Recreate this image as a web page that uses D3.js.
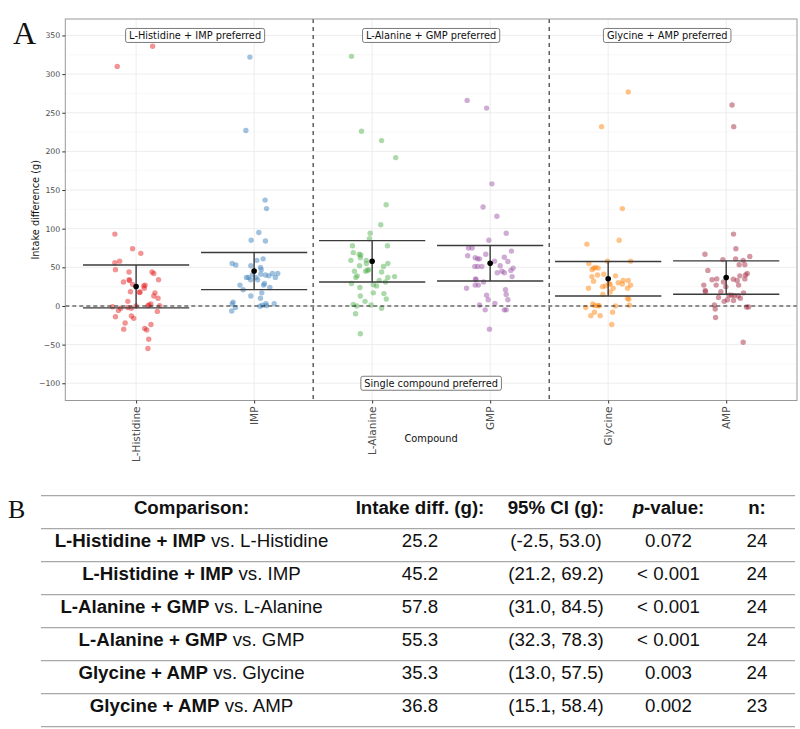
<!DOCTYPE html>
<html><head><meta charset="utf-8">
<script src="https://cdn.jsdelivr.net/npm/d3@7"></script>
<style>body{margin:0;background:#fff;}svg{display:block;}</style>
</head><body>
<svg id="chart" width="800" height="729"></svg>
<script>
const categories = ["L-Histidine","IMP","L-Alanine","GMP","Glycine","AMP"];
const colors = ["#E41A1C","#377EB8","#4DAF4A","#984EA3","#FF7F00","#A0233A"];
const means = [25.2,45.2,57.8,55.3,35.3,36.8];
const ciLow = [-2.5,21.2,31.0,32.3,13.0,15.1];
const ciHigh = [53.0,69.2,84.5,78.3,57.5,58.4];
const yTicks = [-100,-50,0,50,100,150,200,250,300,350];

// jittered points: [horizontal offset in category steps, intake difference (g)]
const ptsHistidine = [[-0.16,310],[0.14,336],[-0.18,93],[-0.03,74],[0.04,68],[-0.18,56],[-0.14,58],[-0.175,47],[-0.06,44],[0.135,44],[0.15,42],[-0.107,31],[-0.06,34],[-0.055,33],[0.19,34],[-0.03,28],[0.065,26],[0.076,27],[0.07,23],[0.034,18],[0.028,17.5],[-0.048,18.5],[0.16,17],[0.15,13],[0.186,10],[-0.07,6],[-0.2,-1],[-0.13,-3],[-0.15,-6],[-0.07,-2],[-0.04,-3],[0,0],[0.1,0.4],[0.11,1.3],[0.125,2.6],[0.2,0.4],[0.18,-7],[-0.175,-14],[-0.04,-13],[-0.02,-16],[-0.093,-22],[-0.105,-30],[0.126,-24],[0.073,-29],[0.09,-31],[0.107,-43],[0.1,-55]];
const ptsIMP = [[-0.036,322],[-0.07,227],[0.093,137],[0.105,126],[0.04,95],[-0.025,85],[0.096,84],[-0.186,55],[-0.155,53],[-0.028,52],[0.023,59],[0.076,61],[0.054,50],[0.06,47],[-0.014,40.5],[-0.048,37],[0.014,37],[0.056,41],[0.096,40],[0.124,39],[0.155,42],[0.18,37],[0.2,42],[-0.065,37],[-0.03,34],[0.03,34],[-0.12,27],[-0.093,21],[0.088,29],[0.08,27],[0.133,24],[0.065,17],[0.054,10],[-0.028,13],[-0.178,5],[-0.186,2.6],[-0.158,-2],[-0.19,-6.5],[0.05,-0.4],[0.07,1],[0.1,3],[0.105,0.4],[0.17,3]];
const ptsAlanine = [[-0.175,323],[-0.09,226],[0.08,214],[0.2,192],[0.119,131],[0.073,105],[-0.017,94],[-0.023,87],[-0.167,78],[0.13,78],[-0.16,69],[-0.11,67],[-0.096,66],[-0.1,62.5],[-0.18,59],[-0.05,59],[-0.048,55],[0.133,55],[-0.107,52],[0.096,51],[-0.15,45],[-0.04,46],[-0.055,45],[-0.03,47],[0.08,44],[-0.127,39],[-0.138,37],[0.133,37],[0.19,38],[0.06,33],[0.113,31],[-0.175,29],[0.01,27.6],[0.037,26],[-0.104,24],[0.01,17],[-0.1,13],[0.1,16],[0.12,9],[-0.06,6],[-0.16,2],[-0.13,0],[-0.008,1.3],[0.08,-3],[-0.14,-10],[-0.1,-36]];
const ptsGMP = [[-0.195,266],[-0.03,256],[0.015,158],[-0.06,128],[0.057,116],[0.136,94],[-0.011,85],[-0.184,75],[-0.153,75],[0.18,71],[-0.037,67],[-0.19,65],[0.12,63],[-0.127,62.5],[-0.107,61],[-0.09,61],[0.037,58],[0.15,57.5],[-0.13,51],[-0.105,51],[-0.07,51],[0.085,52],[0.1,45],[0.12,43],[0.195,49],[0.175,46],[0.06,43],[0.186,38],[-0.124,35],[-0.12,34],[-0.056,31],[-0.2,23],[-0.127,27],[-0.1,27],[0.13,21],[0.136,15],[-0.03,14],[0.15,8],[-0.017,8],[0.04,3.4],[-0.09,1.3],[-0.042,-5],[0.12,-5],[0.136,-5],[-0.006,-30]];
const ptsGlycine = [[0.17,277],[-0.056,232],[0.12,126],[0.093,85],[-0.18,80],[-0.006,58],[0.19,58],[-0.164,55],[-0.124,49],[-0.107,50],[-0.085,49],[-0.136,47],[-0.037,41],[-0.09,40],[-0.138,38],[0.062,39],[-0.124,32],[0.006,29],[0.017,28],[0.085,30],[0.12,28.5],[0.127,33],[0.17,33],[0.19,27],[-0.048,25],[-0.023,26],[0.042,23],[-0.167,23],[0.164,23],[-0.045,15],[0.017,18],[0.164,10],[0.175,8.6],[-0.13,2.6],[-0.113,0.4],[-0.088,0.4],[-0.076,0.4],[-0.19,-2],[0.062,0],[0.18,1],[-0.116,-8],[-0.147,-12.5],[-0.068,-12.5],[0.037,-8],[0.03,-24]];
const ptsAMP = [[0.05,260],[0.064,232],[0.062,93],[0.082,74],[-0.18,67],[0.2,64],[-0.028,60],[0.08,61],[0.144,59],[0.158,53.5],[0.11,53.5],[-0.155,46],[0.178,42],[0.164,40],[0.158,35],[0.116,39],[-0.08,35],[-0.12,34],[0.06,34.5],[-0.023,31],[0.093,33],[-0.19,27],[-0.085,27],[0.105,27],[-0.178,20],[-0.175,18.5],[-0.045,18.5],[-0.003,25],[0.023,14],[0.045,14],[0.068,13.4],[0.1,13],[0.12,10],[0.147,17],[-0.065,11],[-0.017,6],[0.011,8],[0.062,7],[-0.1,1.3],[0.172,-1.3],[0.19,-1.3],[-0.093,-4],[-0.09,-15],[0.144,-47]];
const points = [ptsHistidine, ptsIMP, ptsAlanine, ptsGMP, ptsGlycine, ptsAMP];

const annoText = ["L-Histidine + IMP preferred","L-Alanine + GMP preferred","Glycine + AMP preferred","Single compound preferred"];
const annoPair = [[0,1],[2,3],[4,5],[2,3]];
const annoValue = [350,350,350,-100];

// table
const tHeaders = ["Comparison:","Intake diff. (g):","95% CI (g):","p-value:","n:"];
const tBold = ["L-Histidine + IMP","L-Histidine + IMP","L-Alanine + GMP","L-Alanine + GMP","Glycine + AMP","Glycine + AMP"];
const tRest = [" vs. L-Histidine"," vs. IMP"," vs. L-Alanine"," vs. GMP"," vs. Glycine"," vs. AMP"];
const tDiff = ["25.2","45.2","57.8","55.3","35.3","36.8"];
const tCI = ["(-2.5, 53.0)","(21.2, 69.2)","(31.0, 84.5)","(32.3, 78.3)","(13.0, 57.5)","(15.1, 58.4)"];
const tP = ["0.072","< 0.001","< 0.001","< 0.001","0.003","0.002"];
const tN = ["24","24","24","24","24","23"];

const svg = d3.select("#chart");
const P = {left:65.3, right:797, top:19, bottom:400.5};
const x = d3.scalePoint().domain(categories).range([P.left, P.right]).padding(0.6);
const y = d3.scaleLinear().domain([-122.3, 371.3]).range([P.bottom, P.top]);
const step = x.step();

const g = svg.append("g");
// minor grid
const minor = d3.range(-125, 376, 50);
g.selectAll(".minor").data(minor.filter(v=>v>-122.3&&v<371.3)).join("line")
  .attr("x1",P.left).attr("x2",P.right).attr("y1",d=>y(d)).attr("y2",d=>y(d))
  .attr("stroke","#f4f4f4").attr("stroke-width",0.6);
g.selectAll(".major").data(yTicks).join("line")
  .attr("x1",P.left).attr("x2",P.right).attr("y1",d=>y(d)).attr("y2",d=>y(d))
  .attr("stroke","#ebebeb").attr("stroke-width",0.9);
g.selectAll(".vmajor").data(categories).join("line")
  .attr("x1",d=>x(d)).attr("x2",d=>x(d)).attr("y1",P.top).attr("y2",P.bottom)
  .attr("stroke","#ebebeb").attr("stroke-width",0.9);

// points
categories.forEach((c,i)=>{
  g.append("g").selectAll("circle").data(points[i]).join("circle")
    .attr("cx",d=>x(c)+d[0]*step).attr("cy",d=>y(d[1])).attr("r",2.7)
    .attr("fill",colors[i]).attr("fill-opacity",0.47);
});

// zero line
g.append("line").attr("x1",P.left).attr("x2",P.right).attr("y1",y(0)).attr("y2",y(0))
  .attr("stroke","#222").attr("stroke-width",1.1).attr("stroke-dasharray","4,3");
// separators
[[1,2],[3,4]].forEach(([a,b])=>{
  const xx=(x(categories[a])+x(categories[b]))/2;
  g.append("line").attr("x1",xx).attr("x2",xx).attr("y1",P.top).attr("y2",P.bottom)
    .attr("stroke","#111").attr("stroke-width",1).attr("stroke-dasharray","4,4");
});

// error bars
categories.forEach((c,i)=>{
  const cx=x(c), hw=0.45*step;
  const eb=g.append("g").attr("stroke","#3a3a3a").attr("stroke-width",1.4);
  eb.append("line").attr("x1",cx-hw).attr("x2",cx+hw).attr("y1",y(ciHigh[i])).attr("y2",y(ciHigh[i]));
  eb.append("line").attr("x1",cx-hw).attr("x2",cx+hw).attr("y1",y(ciLow[i])).attr("y2",y(ciLow[i]));
  eb.append("line").attr("x1",cx).attr("x2",cx).attr("y1",y(ciLow[i])).attr("y2",y(ciHigh[i]));
  g.append("circle").attr("cx",cx).attr("cy",y(means[i])).attr("r",2.8).attr("fill","#000");
});

// annotation labels
annoText.forEach((t,i)=>{
  const cx=(x(categories[annoPair[i][0]])+x(categories[annoPair[i][1]]))/2;
  const cy=y(annoValue[i]);
  const lg=g.append("g");
  const rect=lg.append("rect");
  const tx=lg.append("text").attr("x",cx).attr("y",cy).attr("text-anchor","middle").attr("dy","0.36em")
    .attr("font-family","DejaVu Sans").attr("font-size",9.8).attr("fill","#111").text(t);
  const w=tx.node().getComputedTextLength();
  rect.attr("x",cx-w/2-3.5).attr("y",cy-7).attr("width",w+7).attr("height",14)
    .attr("rx",2).attr("fill","#fff").attr("stroke","#444").attr("stroke-width",0.7);
});

// panel border
g.append("rect").attr("x",P.left).attr("y",P.top).attr("width",P.right-P.left).attr("height",P.bottom-P.top)
  .attr("fill","none").attr("stroke","#999").attr("stroke-width",1);

// axes
const yAxis=g.append("g").attr("transform",`translate(${P.left},0)`)
  .call(d3.axisLeft(y).tickValues(yTicks).tickSize(3).tickPadding(2));
yAxis.select(".domain").remove();
yAxis.selectAll("line").attr("stroke","#333");
yAxis.selectAll("text").attr("font-family","DejaVu Sans").attr("font-size",7.8).attr("fill","#4d4d4d");

const xAxis=g.append("g").attr("transform",`translate(0,${P.bottom})`)
  .call(d3.axisBottom(x).tickSize(3).tickPadding(2));
xAxis.select(".domain").remove();
xAxis.selectAll("line").attr("stroke","#333");
xAxis.selectAll("text").attr("font-family","DejaVu Sans").attr("font-size",10.5).attr("fill","#4d4d4d")
  .attr("transform","rotate(-90)").attr("text-anchor","end").attr("x",-6).attr("y",0).attr("dy","0.35em");

svg.append("text").attr("transform",`translate(39,${(P.top+P.bottom)/2}) rotate(-90)`)
  .attr("text-anchor","middle").attr("font-family","DejaVu Sans").attr("font-size",9.8).attr("fill","#111")
  .text("Intake difference (g)");
svg.append("text").attr("x",(P.left+P.right)/2).attr("y",442).attr("text-anchor","middle")
  .attr("font-family","DejaVu Sans").attr("font-size",9.8).attr("fill","#111").text("Compound");

svg.append("text").attr("x",13).attr("y",44).attr("font-family","Liberation Serif").attr("font-size",32).attr("fill","#111").text("A");
svg.append("text").attr("x",8).attr("y",518).attr("font-family","Liberation Serif").attr("font-size",26).attr("fill","#111").text("B");

// table
const T = {left:41, right:795, top:495.7, rowH:33};
const colX = [191.5, 420, 556, 668.5, 757];
const tf = "Liberation Sans", fs = 18.7;
const tg = svg.append("g");
d3.range(8).forEach(i=>{
  tg.append("line").attr("x1",T.left).attr("x2",T.right).attr("y1",T.top+i*T.rowH).attr("y2",T.top+i*T.rowH)
    .attr("stroke","#a8a8a8").attr("stroke-width",1.3);
});
tHeaders.forEach((h,j)=>{
  const t=tg.append("text").attr("x",colX[j]).attr("y",T.top+18.5).attr("text-anchor","middle")
    .attr("font-family",tf).attr("font-size",fs).attr("font-weight","bold").attr("fill","#111");
  if(j===3){ t.append("tspan").attr("font-style","italic").text("p"); t.append("tspan").text("-value:"); }
  else t.text(h);
});
tBold.forEach((b,i)=>{
  const yy=T.top+(i+1)*T.rowH+18.5;
  const t=tg.append("text").attr("x",colX[0]).attr("y",yy).attr("text-anchor","middle")
    .attr("font-family",tf).attr("font-size",fs).attr("fill","#111");
  t.append("tspan").attr("font-weight","bold").text(b);
  t.append("tspan").text(tRest[i]);
  [tDiff[i],tCI[i],tP[i],tN[i]].forEach((v,j)=>{
    tg.append("text").attr("x",colX[j+1]).attr("y",yy).attr("text-anchor","middle")
      .attr("font-family",tf).attr("font-size",fs).attr("fill","#111").text(v);
  });
});
</script>
</body></html>
